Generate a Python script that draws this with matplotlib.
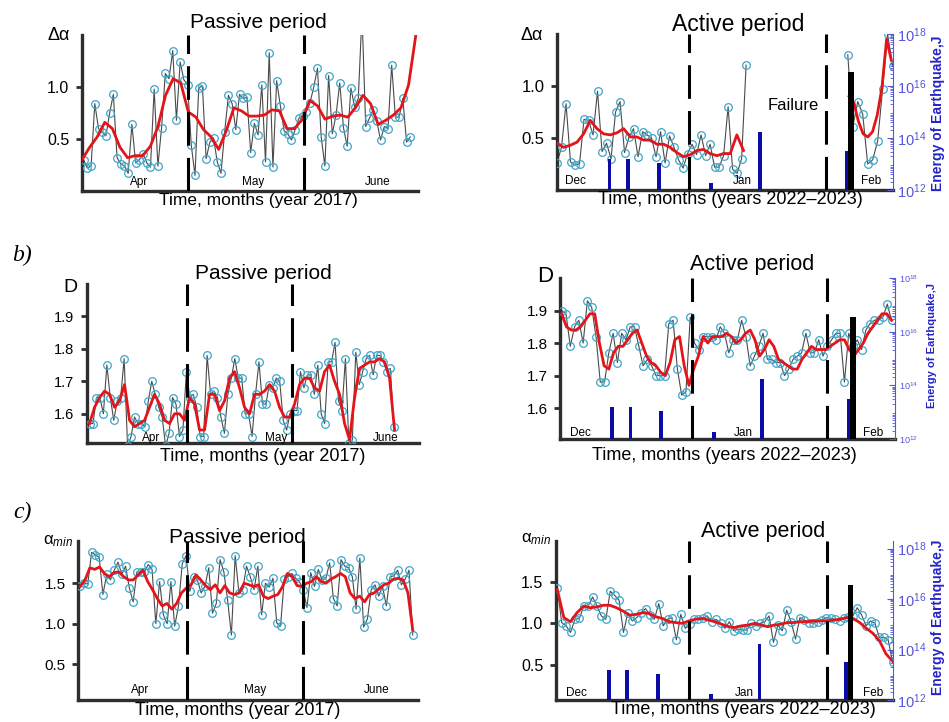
import numpy as np
import matplotlib.pyplot as plt
from matplotlib.ticker import LogLocator, NullFormatter

plt.rcParams['font.family'] = ['Liberation Sans', 'DejaVu Sans']
plt.rcParams['mathtext.fontset'] = 'custom'
plt.rcParams['mathtext.rm'] = 'Liberation Sans'
plt.rcParams['mathtext.it'] = 'Liberation Sans:italic'

# ---------------- data (days from start of the shown window) ----------------
PASSIVE_DAYS = 91
ACTIVE_DAYS = 78
passive_months = ['Apr', 'May', 'June']
active_months = ['Dec', 'Jan', 'Feb']

# earthquakes (day, energy J)
quake_day = [12.2, 16.4, 23.6, 35.8, 47.1, 67.2]
quake_energy = [1.5e13, 1.5e13, 1.1e13, 1.8e12, 1.7e14, 3.1e13]
main_day = 68.2
main_energy = 3.5e16

# a) delta alpha, passive
a_pass_raw = [0.30, 0.22, 0.24, 0.84, 0.60, 0.57, 0.53, 0.75, 0.93, 0.32,
              0.26, 0.24, 0.17, 0.64, 0.27, 0.30, 0.36, 0.27, 0.23, 0.98,
              0.24, 0.61, 1.13, 1.08, 1.35, 0.68, 1.24, 1.07, 1.02, 0.44,
              0.15, 0.99, 1.01, 0.31, 0.47, 0.51, 0.28, 0.17, 0.57, 0.92,
              0.84, 0.59, 0.93, 0.89, 0.90, 0.37, 0.65, 0.54, 1.02, 0.28,
              1.33, 0.23, 1.06, 0.82, 0.58, 0.55, 0.49, 0.59, 0.70, 0.72,
              0.76, 0.85, 1.00, 1.18, 0.52, 0.24, 1.11, 0.55, 0.73, 1.04,
              0.61, 0.43, 0.99, 0.81, 0.89, 1.70, 0.62, 0.70, 0.78, 0.67,
              0.49, 0.62, 0.60, 1.21, 0.71, 0.71, 0.89, 0.47, 0.52]
a_pass_smooth = [0.30, 0.42, 0.52, 0.66, 0.60, 0.42, 0.32, 0.34, 0.34, 0.43,
                 0.62, 0.92, 1.08, 1.04, 0.76, 0.71, 0.59, 0.52, 0.40, 0.58,
                 0.80, 0.77, 0.72, 0.72, 0.73, 0.78, 0.77, 0.60, 0.60, 0.69,
                 0.87, 0.82, 0.69, 0.72, 0.73, 0.71, 0.80, 0.92, 0.84, 0.64,
                 0.68, 0.73, 0.80, 1.02, 1.52]
a_pass_raw_span, a_pass_smooth_span = (0.45, 88.9), (0.0, 90.5)
a_pass_div, a_pass_month_x = [28.8, 60.1], [15.5, 46.4, 80.1]

# a) delta alpha, active (gap = failure)
a_act_raw1 = [0.26, 0.41, 0.83, 0.27, 0.24, 0.25, 0.68, 0.67, 0.53, 0.95,
              0.37, 0.45, 0.30, 0.75, 0.85, 0.36, 0.51, 0.59, 0.32, 0.56,
              0.53, 0.50, 0.32, 0.56, 0.26, 0.52, 0.41, 0.29, 0.21, 0.35,
              0.44, 0.34, 0.53, 0.33, 0.44, 0.22, 0.22, 0.33, 0.80, 0.20,
              0.16, 0.30, 1.20]
a_act_raw2 = [1.30, 0.61, 0.85, 0.73, 0.25, 0.29, 0.47, 0.97, 1.50, 1.19]
a_act_smooth1 = [0.45, 0.41, 0.43, 0.46, 0.54, 0.67, 0.59, 0.54, 0.53, 0.55,
                 0.59, 0.51, 0.51, 0.48, 0.48, 0.44, 0.44, 0.41, 0.36, 0.32,
                 0.34, 0.38, 0.39, 0.35, 0.33, 0.35, 0.35, 0.53, 0.38]
a_act_smooth2 = [0.90, 0.84, 0.66, 0.54, 0.51, 0.56, 0.72, 0.98, 1.45, 1.25]
a_act_raw_span1, a_act_raw_span2 = (0.0, 43.9), (67.5, 77.9)
a_act_smooth_span1, a_act_smooth_span2 = (0.0, 43.3), (67.8, 77.6)
a_act_div, a_act_month_x = [30.6, 62.4], [4.3, 43.0, 73.0]

# b) D, passive
b_pass_raw = [1.57, 1.57, 1.65, 1.65, 1.60, 1.75, 1.65, 1.58, 1.64, 1.65,
              1.77, 1.50, 1.53, 1.59, 1.57, 1.57, 1.56, 1.64, 1.70, 1.66,
              1.62, 1.59, 1.50, 1.54, 1.65, 1.63, 1.53, 1.55, 1.73, 1.65,
              1.66, 1.62, 1.53, 1.53, 1.78, 1.66, 1.67, 1.65, 1.59, 1.54,
              1.66, 1.71, 1.77, 1.71, 1.71, 1.60, 1.60, 1.53, 1.66, 1.76,
              1.63, 1.63, 1.69, 1.68, 1.71, 1.70, 1.58, 1.55, 1.60, 1.61,
              1.61, 1.73, 1.68, 1.72, 1.72, 1.66, 1.75, 1.60, 1.57, 1.76,
              1.76, 1.82, 1.64, 1.61, 1.77, 1.51, 1.52, 1.79, 1.69, 1.73,
              1.77, 1.78, 1.72, 1.78, 1.78, 1.76, 1.73, 1.74, 1.56]
b_pass_smooth = [1.57, 1.62, 1.65, 1.67, 1.66, 1.62, 1.64, 1.69, 1.58, 1.56,
                 1.57, 1.58, 1.62, 1.66, 1.63, 1.58, 1.57, 1.60, 1.60, 1.58,
                 1.65, 1.63, 1.55, 1.55, 1.66, 1.66, 1.61, 1.64, 1.71, 1.73,
                 1.68, 1.62, 1.60, 1.66, 1.66, 1.67, 1.69, 1.67, 1.62, 1.59,
                 1.59, 1.63, 1.69, 1.71, 1.71, 1.68, 1.67, 1.73, 1.75, 1.70,
                 1.66, 1.57, 1.52, 1.65, 1.74, 1.75, 1.76, 1.76, 1.77, 1.76,
                 1.71, 1.55]
b_pass_raw_span, b_pass_smooth_span = (0.7, 84.1), (0.7, 84.3)
b_pass_div, b_pass_month_x = [27.4, 56.2], [17.7, 51.9, 81.9]

# b) D, active
b_act_raw = [1.90, 1.89, 1.79, 1.85, 1.87, 1.80, 1.93, 1.91, 1.82, 1.68,
             1.68, 1.77, 1.83, 1.74, 1.83, 1.81, 1.85, 1.85, 1.79, 1.73,
             1.75, 1.73, 1.70, 1.70, 1.70, 1.86, 1.87, 1.72, 1.64, 1.65,
             1.88, 1.80, 1.78, 1.82, 1.82, 1.82, 1.81, 1.85, 1.83, 1.77,
             1.81, 1.81, 1.87, 1.82, 1.73, 1.76, 1.79, 1.83, 1.75, 1.75,
             1.74, 1.74, 1.70, 1.72, 1.75, 1.76, 1.77, 1.83, 1.77, 1.77,
             1.81, 1.76, 1.79, 1.81, 1.83, 1.83, 1.68, 1.83, 1.79, 1.81,
             1.78, 1.84, 1.86, 1.87, 1.87, 1.88, 1.92, 1.87]
b_act_smooth = [1.89, 1.85, 1.84, 1.84, 1.85, 1.87, 1.89, 1.89, 1.80, 1.73,
                1.72, 1.77, 1.79, 1.79, 1.81, 1.83, 1.84, 1.80, 1.76, 1.74,
                1.73, 1.71, 1.70, 1.74, 1.81, 1.82, 1.73, 1.67, 1.72, 1.76,
                1.82, 1.80, 1.82, 1.82, 1.82, 1.83, 1.82, 1.80, 1.81, 1.83,
                1.84, 1.81, 1.76, 1.78, 1.81, 1.79, 1.75, 1.74, 1.73, 1.72,
                1.72, 1.75, 1.77, 1.79, 1.78, 1.78, 1.78, 1.79, 1.80, 1.81,
                1.81, 1.78, 1.76, 1.78, 1.80, 1.83, 1.85, 1.87, 1.89, 1.89,
                1.87]
b_act_raw_span, b_act_smooth_span = (0.4, 77.2), (0.4, 77.2)
b_act_div, b_act_month_x = [30.8, 62.1], [4.7, 42.7, 72.9]

# c) alpha_min, passive
c_pass_raw = [1.47, 1.50, 1.49, 1.88, 1.85, 1.82, 1.36, 1.61, 1.54, 1.66,
              1.76, 1.61, 1.71, 1.44, 1.27, 1.64, 1.64, 1.64, 1.73, 1.67,
              1.00, 1.52, 1.11, 1.00, 1.52, 0.97, 1.22, 1.74, 1.84, 1.40,
              1.58, 1.54, 1.38, 1.46, 1.69, 1.13, 1.25, 1.79, 1.64, 1.29,
              0.86, 1.84, 1.38, 1.42, 1.71, 1.58, 1.42, 1.71, 1.11, 1.50,
              1.45, 1.56, 1.01, 0.97, 1.55, 1.58, 1.62, 1.56, 1.52, 1.42,
              1.20, 1.63, 1.46, 1.67, 1.54, 1.56, 1.75, 1.31, 1.22, 1.79,
              1.71, 1.69, 1.58, 1.18, 1.81, 0.96, 1.06, 1.42, 1.48, 1.34,
              1.46, 1.22, 1.58, 1.59, 1.66, 1.48, 1.55, 1.66, 0.86]
c_pass_smooth = [1.46, 1.54, 1.69, 1.67, 1.70, 1.62, 1.58, 1.63, 1.64, 1.58,
                 1.54, 1.54, 1.60, 1.66, 1.52, 1.42, 1.31, 1.22, 1.25, 1.18,
                 1.25, 1.38, 1.44, 1.48, 1.60, 1.54, 1.47, 1.42, 1.48, 1.38,
                 1.47, 1.38, 1.36, 1.38, 1.50, 1.48, 1.46, 1.48, 1.34, 1.31,
                 1.34, 1.36, 1.46, 1.62, 1.58, 1.47, 1.46, 1.50, 1.52, 1.58,
                 1.52, 1.50, 1.55, 1.58, 1.62, 1.58, 1.38, 1.31, 1.34, 1.27,
                 1.36, 1.38, 1.43, 1.48, 1.50, 1.55, 1.56, 1.54, 1.38, 0.92]
c_pass_raw_span, c_pass_smooth_span = (0.6, 89.6), (0.6, 89.6)
c_pass_div, c_pass_month_x = [29.1, 60.1], [16.7, 47.3, 79.9]

# c) alpha_min, active
c_act_raw = [1.43, 1.01, 0.97, 0.89, 1.05, 1.06, 1.21, 1.21, 1.32, 1.21,
             1.09, 1.05, 1.39, 1.34, 1.28, 0.89, 1.13, 1.03, 1.07, 1.13,
             1.18, 1.10, 1.05, 1.24, 0.97, 1.05, 1.07, 0.80, 1.11, 0.94,
             0.99, 1.05, 1.05, 1.06, 1.09, 1.02, 1.05, 1.00, 0.94, 1.02,
             0.91, 0.93, 0.92, 0.92, 1.00, 0.97, 1.00, 1.02, 1.09, 0.77,
             0.98, 0.91, 1.16, 1.02, 0.81, 1.07, 1.04, 1.01, 1.00, 1.02,
             1.04, 1.07, 1.06, 1.05, 1.03, 1.07, 1.08, 1.09, 1.19, 1.10,
             0.97, 1.03, 1.00, 0.83, 0.83, 0.80, 0.53]
c_act_smooth = [1.41, 1.07, 1.02, 1.13, 1.21, 1.19, 1.20, 1.22, 1.22, 1.19,
                1.15, 1.10, 1.11, 1.13, 1.12, 1.08, 1.06, 1.02, 1.01, 1.00,
                1.03, 1.05, 1.06, 1.04, 1.02, 0.99, 0.96, 0.95, 0.97, 0.98,
                1.00, 0.98, 0.96, 0.98, 0.99, 1.01, 1.01, 1.02, 1.02, 1.03,
                1.03, 1.03, 1.04, 1.05, 1.07, 1.06, 1.01, 0.94, 0.88, 0.79,
                0.63, 0.54]
c_act_raw_span, c_act_smooth_span = (0.3, 77.9), (0.3, 77.9)
c_act_div, c_act_month_x = [30.8, 62.7], [4.7, 43.6, 73.4]

# ---------------- styles ----------------
RAW_LINE = '#4a4a4a'
RAW_MARK = '#3fa6c8'
SMOOTH = '#e3151a'
BAR_BLUE = '#0b0ba6'
TICK_BLUE = '#5555dd'
AX_DARK = '#2e2e2e'

W, H = 949, 722
fig = plt.figure(figsize=(W / 100, H / 100), dpi=100)


def box(l, t, r, b):
    return fig.add_axes([l / W, 1 - b / H, (r - l) / W, (b - t) / H])


def series(ax, raw, raw_span, smooth, smooth_span):
    x = np.linspace(raw_span[0], raw_span[1], len(raw))
    ax.plot(x, raw, color=RAW_LINE, lw=0.8, zorder=2)
    ax.plot(x, raw, 'o', ms=5.5, mfc='none', mec=RAW_MARK, mew=0.9, zorder=3)
    xs = np.linspace(smooth_span[0], smooth_span[1], len(smooth))
    ax.plot(xs, smooth, color=SMOOTH, lw=2, zorder=4)


def frame(ax, xmax, ylim, yticks, ylab, ylab_xy, ylab_fs, tick_fs,
          title, title_xy, title_fs, xlabel, xlabel_xy, xlabel_fs,
          months, month_x, month_y, dividers):
    ax.set_xlim(0, xmax)
    ax.set_ylim(*ylim)
    ax.set_xticks([])
    ax.set_yticks(yticks)
    ax.set_yticklabels([f'{t:.1f}' for t in yticks])
    ax.tick_params(axis='y', direction='out', length=4, width=2,
                   color=AX_DARK, labelsize=tick_fs, pad=5)
    for s in ['top', 'right']:
        ax.spines[s].set_visible(False)
    for s in ['left', 'bottom']:
        ax.spines[s].set_linewidth(2.4)
        ax.spines[s].set_color(AX_DARK)
    ax.patch.set_alpha(0)
    ax.text(*ylab_xy, ylab, transform=ax.transAxes, fontsize=ylab_fs,
            ha='center', va='center')
    ax.text(*title_xy, title, transform=ax.transAxes, fontsize=title_fs,
            ha='center', va='center')
    ax.text(*xlabel_xy, xlabel, transform=ax.transAxes, fontsize=xlabel_fs,
            ha='center', va='center')
    tr = ax.get_xaxis_transform()
    for m, mx in zip(months, month_x):
        ax.text(mx, month_y, m, transform=tr, fontsize=8.5, ha='center',
                va='center')
    for d in dividers:
        ax.axvline(d, color='black', lw=2.2, ls=(0, (11, 4)), zorder=6)


def energy_axis(ax, ytop, tick_fs, label_fs, label_xy):
    ax2 = ax.twinx()
    ax2.set_yscale('log')
    ax2.bar(quake_day, np.array(quake_energy) - 1e12, bottom=1e12,
            width=0.9, color=BAR_BLUE, zorder=3)
    ax2.bar([main_day], [main_energy - 1e12], bottom=1e12, width=1.3,
            color='black', zorder=3)
    ax2.set_ylim(1e12, ytop)
    ax2.set_yticks([1e12, 1e14, 1e16, 1e18])
    ax2.yaxis.set_minor_locator(LogLocator(base=10, subs=np.arange(2, 10),
                                           numticks=30))
    ax2.yaxis.set_minor_formatter(NullFormatter())
    for s in ['left', 'top', 'bottom']:
        ax2.spines[s].set_visible(False)
    ax2.spines['right'].set_color(TICK_BLUE)
    ax2.spines['right'].set_linewidth(0.8)
    ax2.tick_params(axis='y', which='both', colors=TICK_BLUE,
                    direction='in', labelsize=tick_fs, pad=3)
    ax2.tick_params(axis='y', which='major', length=4)
    ax2.tick_params(axis='y', which='minor', length=2)
    ax2.text(*label_xy, 'Energy of Earthquake,J', transform=ax2.transAxes,
             rotation=90, color='#2424c8', fontweight='bold',
             fontsize=label_fs, ha='center', va='center')
    return ax2


# ---------------- a) ----------------
ax = box(82, 35, 418, 191)
series(ax, a_pass_raw, a_pass_raw_span, a_pass_smooth, a_pass_smooth_span)
frame(ax, PASSIVE_DAYS, (0, 1.5), [0.5, 1.0], 'Δα', (-0.07, 1.0), 13, 11.5,
      'Passive period', (0.524, 1.083), 15,
      'Time, months (year 2017)', (0.524, -0.06), 12.5,
      passive_months, a_pass_month_x, 0.055, a_pass_div)

ax = box(557, 34, 893, 190)
series(ax, a_act_raw1, a_act_raw_span1, a_act_smooth1, a_act_smooth_span1)
series(ax, a_act_raw2, a_act_raw_span2, a_act_smooth2, a_act_smooth_span2)
frame(ax, ACTIVE_DAYS, (0, 1.5), [0.5, 1.0], 'Δα', (-0.074, 0.99), 13, 12,
      'Active period', (0.539, 1.064), 16.5,
      'Time, months (years 2022–2023)', (0.515, -0.064), 13,
      active_months, a_act_month_x, 0.055, a_act_div)
ax.text(54.8, 0.81, 'Failure', fontsize=12, ha='center', va='center')
energy_axis(ax, 1e18, 10.5, 10, (1.135, 0.49))

# ---------------- b) ----------------
fig.text(22 / W, 1 - 255 / H, 'b)', fontsize=17, style='italic',
         family='Liberation Serif', ha='center', va='center')

ax = box(87, 284, 419, 443)
series(ax, b_pass_raw, b_pass_raw_span, b_pass_smooth, b_pass_smooth_span)
frame(ax, PASSIVE_DAYS, (1.51, 2.0), [1.6, 1.7, 1.8, 1.9], 'D', (-0.05, 0.98),
      14, 10.5, 'Passive period', (0.53, 1.069), 15,
      'Time, months (year 2017)', (0.53, -0.088), 13,
      passive_months, b_pass_month_x, 0.03, b_pass_div)

ax = box(560, 278, 895, 439)
series(ax, b_act_raw, b_act_raw_span, b_act_smooth, b_act_smooth_span)
frame(ax, ACTIVE_DAYS, (1.505, 2.0), [1.6, 1.7, 1.8, 1.9], 'D',
      (-0.045, 1.01), 16, 11, 'Active period', (0.573, 1.081), 15.5,
      'Time, months (years 2022–2023)', (0.49, -0.1), 13,
      active_months, b_act_month_x, 0.04, b_act_div)
energy_axis(ax, 1e18, 6.5, 8, (1.11, 0.58))

# ---------------- c) ----------------
fig.text(22 / W, 1 - 512 / H, 'c)', fontsize=17, style='italic',
         family='Liberation Serif', ha='center', va='center')

ax = box(78, 541, 418, 700)
series(ax, c_pass_raw, c_pass_raw_span, c_pass_smooth, c_pass_smooth_span)
frame(ax, PASSIVE_DAYS, (0.06, 2.02), [0.5, 1.0, 1.5], r'α$_{min}$',
      (-0.06, 1.0), 12, 11, 'Passive period', (0.47, 1.025), 15,
      'Time, months (year 2017)', (0.47, -0.063), 13,
      passive_months, c_pass_month_x, 0.06, c_pass_div)

ax = box(556, 541, 893, 700)
series(ax, c_act_raw, c_act_raw_span, c_act_smooth, c_act_smooth_span)
frame(ax, ACTIVE_DAYS, (0.07, 2.0), [0.5, 1.0, 1.5], r'α$_{min}$',
      (-0.06, 1.01), 12, 11.5, 'Active period', (0.614, 1.057), 15.5,
      'Time, months (years 2022–2023)', (0.555, -0.057), 13,
      active_months, c_act_month_x, 0.042, c_act_div)
energy_axis(ax, 10 ** 18.3, 10.5, 10, (1.135, 0.52))

fig.savefig('out.png', dpi=100)
